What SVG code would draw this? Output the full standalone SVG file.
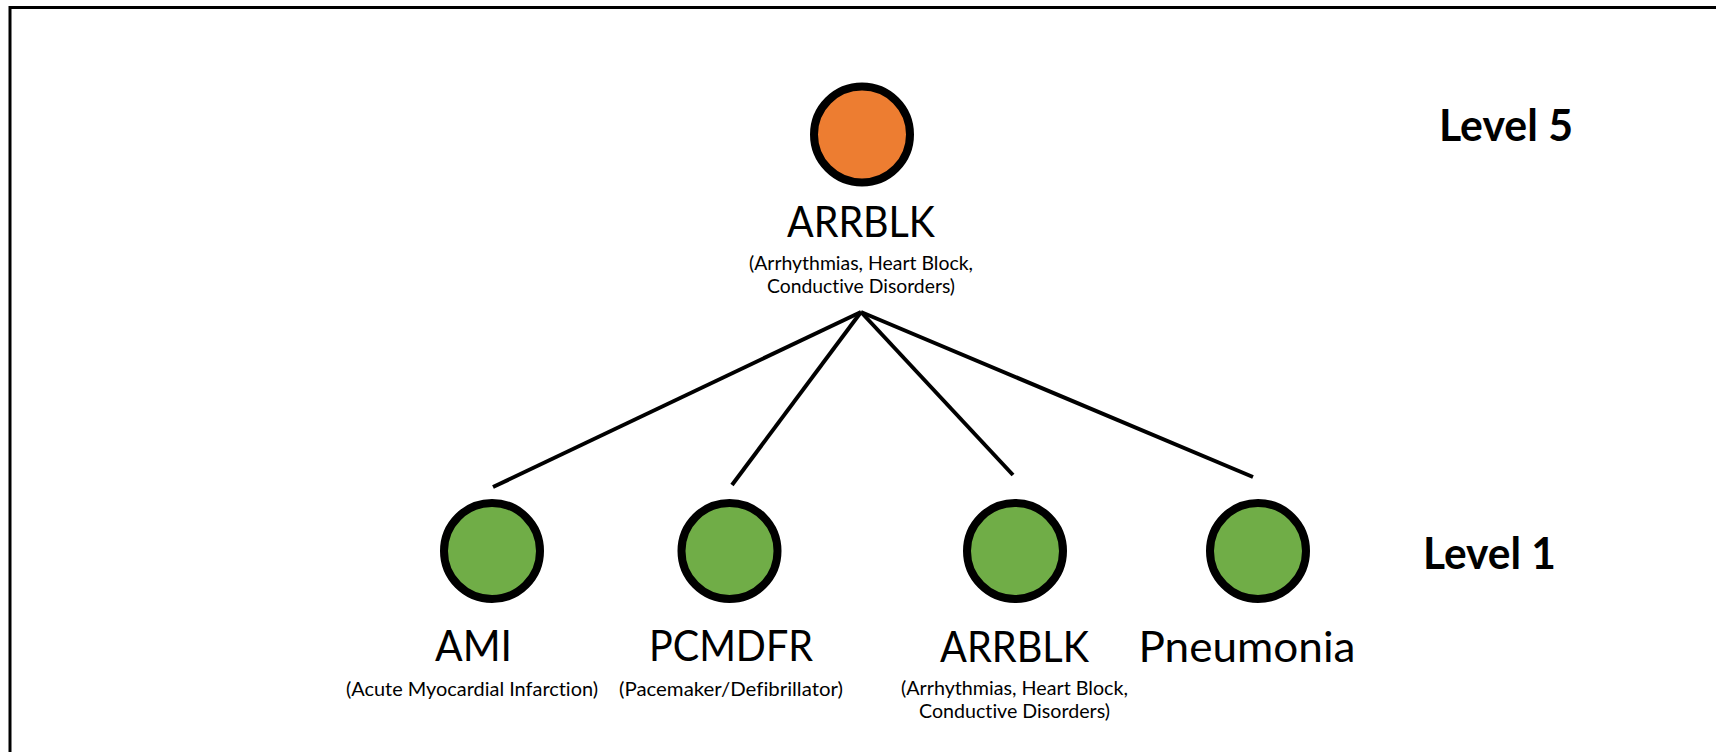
<svg xmlns="http://www.w3.org/2000/svg" width="1716" height="752" viewBox="0 0 1716 752">
<style>
.frame{fill:none;stroke:#000;stroke-width:3}
.conn{stroke:#000;stroke-width:4;fill:none}
.node{stroke:#000;stroke-width:8}
.orange{fill:#ED7D31}
.green{fill:#70AD47}
text{font-variant-ligatures:none}
.main{font-family:Lato,"Liberation Sans",sans-serif;font-size:42px;fill:#000;text-anchor:middle}
.sub{font-family:Lato,"Liberation Sans",sans-serif;font-size:19px;fill:#000;text-anchor:middle}
.lvl{font-family:Lato,"Liberation Sans",sans-serif;font-size:44px;font-weight:bold;fill:#000;text-anchor:middle}
</style>
<rect width="1716" height="752" fill="#fff"/>
<path class="frame" d="M10,752 V7.5 H1716"/>
<g id="connectors">
<line class="conn" x1="861" y1="312" x2="493" y2="487"/>
<line class="conn" x1="861" y1="312" x2="732" y2="485"/>
<line class="conn" x1="861" y1="312" x2="1013" y2="475"/>
<line class="conn" x1="861" y1="312" x2="1253" y2="477"/>
</g>
<g id="node-top-arrblk">
<circle class="node orange" cx="862" cy="134.5" r="48"/>
<text class="main" x="861" y="237" textLength="148" lengthAdjust="spacingAndGlyphs">ARRBLK</text>
<text class="sub" x="861" y="270" textLength="224" lengthAdjust="spacingAndGlyphs">(Arrhythmias, Heart Block,</text>
<text class="sub" x="861" y="293" textLength="188" lengthAdjust="spacingAndGlyphs">Conductive Disorders)</text>
</g>
<g id="node-ami">
<circle class="node green" cx="492" cy="551" r="48"/>
<text class="main" x="473.5" y="661" textLength="77" lengthAdjust="spacingAndGlyphs">AMI</text>
<text class="sub" x="472" y="696" textLength="252" lengthAdjust="spacingAndGlyphs">(Acute Myocardial Infarction)</text>
</g>
<g id="node-pcmdfr">
<circle class="node green" cx="729.5" cy="551" r="48"/>
<text class="main" x="731" y="661" textLength="164" lengthAdjust="spacingAndGlyphs">PCMDFR</text>
<text class="sub" x="731" y="696" textLength="224" lengthAdjust="spacingAndGlyphs">(Pacemaker/Defibrillator)</text>
</g>
<g id="node-arrblk">
<circle class="node green" cx="1015" cy="551" r="48"/>
<text class="main" x="1014.5" y="662" textLength="149" lengthAdjust="spacingAndGlyphs">ARRBLK</text>
<text class="sub" x="1014.5" y="695" textLength="227" lengthAdjust="spacingAndGlyphs">(Arrhythmias, Heart Block,</text>
<text class="sub" x="1014.5" y="718" textLength="191" lengthAdjust="spacingAndGlyphs">Conductive Disorders)</text>
</g>
<g id="node-pneumonia">
<circle class="node green" cx="1258" cy="551" r="48"/>
<text class="main" x="1247" y="662" textLength="217" lengthAdjust="spacingAndGlyphs">Pneumonia</text>
</g>
<g id="level-labels">
<text class="lvl" x="1506" y="141" textLength="134" lengthAdjust="spacingAndGlyphs">Level 5</text>
<text class="lvl" x="1489.5" y="569" textLength="133" lengthAdjust="spacingAndGlyphs">Level 1</text>
</g>
</svg>
